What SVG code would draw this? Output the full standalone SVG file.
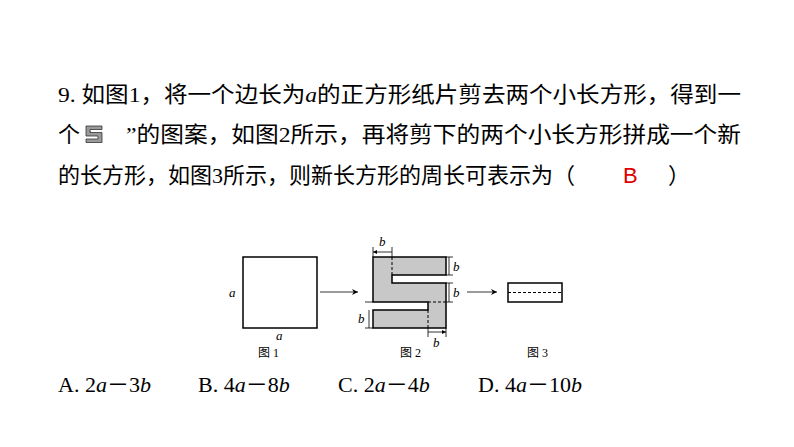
<svg xmlns="http://www.w3.org/2000/svg" width="794" height="447" viewBox="0 0 794 447">
<defs>
<marker id="ah" viewBox="0 0 10 10" refX="10" refY="5" markerWidth="8" markerHeight="6" orient="auto-start-reverse" markerUnits="userSpaceOnUse"><path d="M0,0L10,5L0,10L3,5z" fill="#000"/></marker>
<marker id="dm" viewBox="0 0 10 10" refX="10" refY="5" markerWidth="4" markerHeight="4" orient="auto-start-reverse" markerUnits="userSpaceOnUse"><path d="M0,0L10,5L0,10z" fill="#000"/></marker>
</defs>
<style>
.q{font-family:"Liberation Serif","Noto Sans CJK SC",serif;font-size:22px;fill:#000}
.l{font-family:"Liberation Serif",serif;font-style:italic;font-size:13px}
.c{font-family:"Liberation Serif","Noto Sans CJK SC",serif;font-size:12px}
.s{fill:none;stroke:#000;stroke-width:1.5}
.t{fill:none;stroke:#000;stroke-width:0.8}
.d{fill:none;stroke:#000;stroke-width:1;stroke-dasharray:3,2}
</style>
<rect width="794" height="447" fill="#fff"/>
<g id="question">
<text class="q" x="58" y="102" textLength="683" lengthAdjust="spacingAndGlyphs">9. 如图1，将一个边长为<tspan font-style="italic">a</tspan>的正方形纸片剪去两个小长方形，得到一</text>
<text class="q" x="58" y="142">个 ‘</text>
<path d="M86,126h16v3.5h-12v3h12v10h-16v-3.5h12v-3h-12z" fill="#999" stroke="#333" stroke-width="0.8"/>
<text class="q" x="126" y="142" textLength="615" lengthAdjust="spacingAndGlyphs">”的图案，如图2所示，再将剪下的两个小长方形拼成一个新</text>
<text class="q" x="58" y="183">的长方形，如图3所示，则新长方形的周长可表示为（</text>
<text class="q" x="623" y="183" style="fill:#e00000;font-family:'Liberation Sans',sans-serif">B</text>
<text class="q" x="668" y="183">）</text>
</g>
<g id="fig1">
<rect class="s" x="243" y="257" width="74" height="71"/>
<text class="l" x="229" y="297">a</text>
<text class="l" x="276" y="340">a</text>
<text class="c" x="258" y="357">图 1</text>
</g>
<g id="fig2">
<path d="M373,257H446V275H392V283H446V328H373V310H428V302H373Z" fill="#c8c8c8" stroke="#000" stroke-width="1.5"/>
<path class="d" d="M392,257V275M428,302H446M428,310V328"/>
<path class="t" d="M373,257V247M392,257V247M446,257H453M446,275H453M446,283H453M446,302H453M373,302H365M373,328H365M428,328V337M446,328V337"/>
<path class="t" d="M373,252H392M449,257V275M449,283V302M369,310V328M428,332H446" marker-start="url(#dm)" marker-end="url(#dm)"/>
<text class="l" x="379" y="246">b</text>
<text class="l" x="453" y="271">b</text>
<text class="l" x="453" y="297">b</text>
<text class="l" x="358" y="323">b</text>
<text class="l" x="433" y="347">b</text>
<text class="c" x="400" y="357">图 2</text>
</g>
<g id="fig3">
<rect class="s" x="508" y="283" width="54" height="19"/>
<path class="d" d="M508,292.5H562"/>
<text class="c" x="527" y="357">图 3</text>
</g>
<g id="connectors">
<path class="t" d="M320,292H358" marker-end="url(#ah)"/>
<path class="t" d="M467,292H497" marker-end="url(#ah)"/>
</g>
<g id="options">
<text class="q" x="58" y="392">A. 2<tspan font-style="italic">a</tspan>－3<tspan font-style="italic">b</tspan></text>
<text class="q" x="198" y="392">B. 4<tspan font-style="italic">a</tspan>－8<tspan font-style="italic">b</tspan></text>
<text class="q" x="338" y="392">C. 2<tspan font-style="italic">a</tspan>－4<tspan font-style="italic">b</tspan></text>
<text class="q" x="478" y="392">D. 4<tspan font-style="italic">a</tspan>－10<tspan font-style="italic">b</tspan></text>
</g>
</svg>
